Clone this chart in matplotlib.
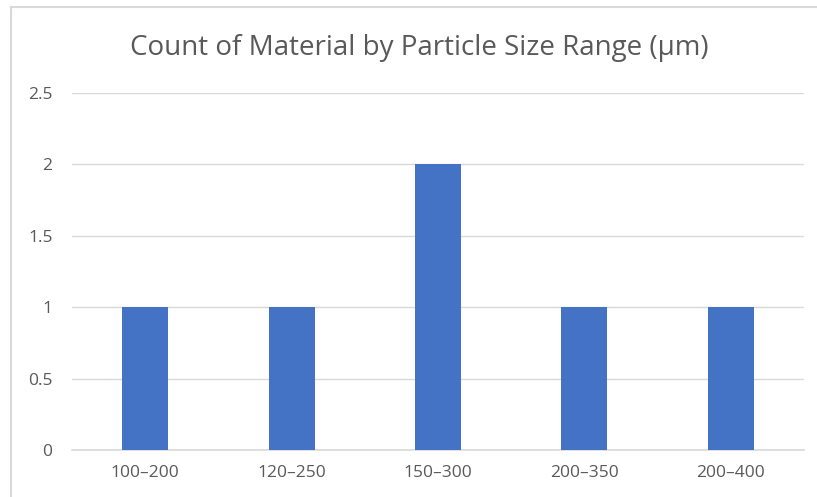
import matplotlib
matplotlib.use("Agg")
import matplotlib.pyplot as plt
from matplotlib.lines import Line2D

categories = ["100–200", "120–250", "150–300", "200–350", "200–400"]
counts = [1, 1, 2, 1, 1]
y_ticks = [0, 0.5, 1, 1.5, 2, 2.5]
y_tick_labels = ["0", "0.5", "1", "1.5", "2", "2.5"]
title = "Count of Material by Particle Size Range (µm)"

W, H = 817, 497
fig = plt.figure(figsize=(W / 100, H / 100), dpi=100)
plt.rcParams["font.family"] = ["Open Sans", "DejaVu Sans"]

# chart-area frame (light grey, left and top edges visible)
fig.add_artist(Line2D([11 / W, 11 / W], [0, 1 - 7 / H], transform=fig.transFigure,
                      color="#d9d9d9", lw=1.5))
fig.add_artist(Line2D([11 / W, 1], [1 - 7 / H, 1 - 7 / H], transform=fig.transFigure,
                      color="#d9d9d9", lw=1.5))

left, right, top, bottom = 72, 804, 93, 450
ax = fig.add_axes([left / W, 1 - bottom / H, (right - left) / W, (bottom - top) / H])

x = list(range(len(categories)))
ax.bar(x, counts, width=0.314, color="#4472c4", zorder=3)
ax.set_xlim(-0.5, len(categories) - 0.5)
ax.set_ylim(0, 2.5)
ax.set_yticks(y_ticks)
ax.set_yticklabels(y_tick_labels)
ax.set_xticks(x)
ax.set_xticklabels(categories)
ax.grid(axis="y", color="#d9d9d9", lw=1, zorder=0)
for s in ["top", "right", "left"]:
    ax.spines[s].set_visible(False)
ax.spines["bottom"].set_color("#d9d9d9")
ax.spines["bottom"].set_linewidth(1.2)
ax.tick_params(axis="both", length=0, labelsize=12.5, labelcolor="#595959")
ax.tick_params(axis="y", pad=14)
ax.tick_params(axis="x", pad=11)

fig.text(419 / W, 1 - 48 / H, title, ha="center", va="center",
         fontsize=20, color="#595959")

fig.savefig("out.png", dpi=100)
